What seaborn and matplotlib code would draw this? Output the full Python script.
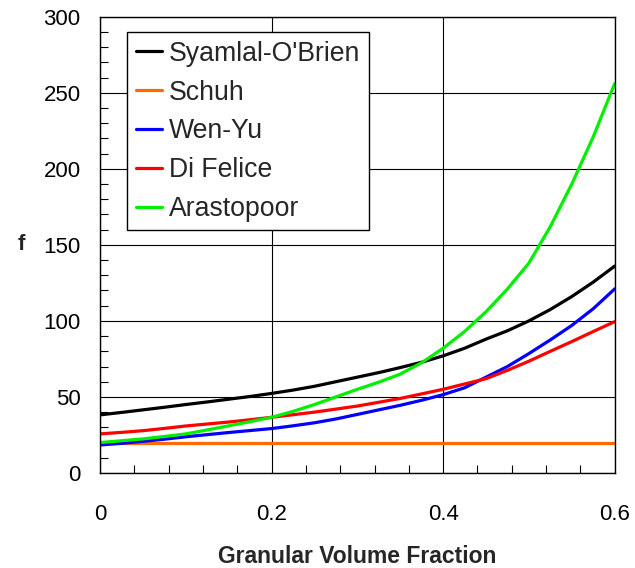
import numpy as np
import pandas as pd
import matplotlib
matplotlib.use("Agg")
import matplotlib.pyplot as plt
import seaborn as sns
from matplotlib.ticker import MultipleLocator

# ---- data ----
phi = [0.0, 0.025, 0.05, 0.075, 0.1, 0.125, 0.15, 0.175, 0.2, 0.225, 0.25, 0.275,
       0.3, 0.325, 0.35, 0.375, 0.4, 0.425, 0.45, 0.475, 0.5, 0.525, 0.55, 0.575, 0.6]

syamlal = [38.2, 39.8, 41.5, 43.2, 45.0, 46.7, 48.5, 50.3, 52.3, 54.5, 57.0, 60.0,
           63.0, 66.0, 69.3, 72.8, 77.0, 82.0, 88.0, 93.5, 100.0, 107.5, 116.0, 125.5, 136.0]
schuh = [20.0] * 25
wenyu = [18.4, 19.5, 20.8, 22.2, 23.8, 25.2, 26.6, 27.9, 29.2, 31.0, 33.0, 35.5,
         38.5, 41.5, 44.5, 47.8, 51.5, 56.0, 63.0, 70.0, 78.5, 87.5, 97.0, 108.0, 121.0]
difelice = [25.7, 26.7, 27.8, 29.3, 30.9, 32.2, 33.5, 35.0, 36.6, 38.3, 40.0, 42.0,
            44.0, 46.5, 49.0, 52.0, 55.0, 58.5, 62.0, 67.5, 73.5, 80.0, 86.4, 93.0, 99.5]
arastopoor = [20.0, 21.2, 22.4, 24.0, 25.7, 28.3, 31.0, 33.7, 36.6, 40.5, 45.0, 50.0,
              55.0, 59.7, 65.0, 72.5, 82.0, 93.0, 106.0, 121.0, 138.0, 162.0, 190.0, 221.0, 256.0]

series_names = ["Syamlal-O'Brien", "Schuh", "Wen-Yu", "Di Felice", "Arastopoor"]
series_values = [syamlal, schuh, wenyu, difelice, arastopoor]
colors = ["#000000", "#FF6A00", "#0000FF", "#FF0000", "#00F000"]

x_ticks = [0, 0.2, 0.4, 0.6]
x_tick_labels = ["0", "0.2", "0.4", "0.6"]
y_ticks = [0, 50, 100, 150, 200, 250, 300]

df = pd.DataFrame({
    "phi": np.tile(phi, len(series_names)),
    "f": np.concatenate(series_values),
    "model": np.repeat(series_names, len(phi)),
})

sns.set_style("white")
plt.rcParams["font.family"] = ["Liberation Sans", "DejaVu Sans"]

fig = plt.figure(figsize=(6.35, 5.68), dpi=100)
ax = fig.add_axes([0.1575, 0.1673, 0.8105, 0.8033])

sns.lineplot(data=df, x="phi", y="f", hue="model", hue_order=series_names,
             palette=colors, linewidth=2.3, ax=ax, legend=True, sort=False,
             estimator=None)

ax.set_xlim(0, 0.6)
ax.set_ylim(0, 300)
ax.set_xticks(x_ticks)
ax.set_xticklabels(x_tick_labels)
ax.set_yticks(y_ticks)
ax.xaxis.set_minor_locator(MultipleLocator(0.04))
ax.yaxis.set_minor_locator(MultipleLocator(10))

ax.grid(True, which="major", color="black", linewidth=0.8)
ax.set_axisbelow(True)
for s in ax.spines.values():
    s.set_visible(True)
    s.set_color("black")
    s.set_linewidth(1.0)

ax.tick_params(axis="both", which="major", length=0, labelsize=16, colors="black")
ax.tick_params(axis="x", which="major", pad=22)
ax.tick_params(axis="y", which="major", pad=14)
ax.tick_params(axis="both", which="minor", direction="in", length=5.5, width=0.8,
               color="black")
ax.tick_params(axis="x", which="minor", bottom=True)
ax.tick_params(axis="y", which="minor", left=True)

ax.set_xlabel("Granular Volume Fraction", fontsize=16.5, fontweight="bold")
ax.xaxis.set_label_coords(0.5, -0.157)
ax.set_ylabel("f", fontsize=16, fontweight="bold", rotation=0, va="center", ha="center")
ax.yaxis.set_label_coords(-0.152, 0.5)

leg = ax.legend(loc="upper left", bbox_to_anchor=(0.0525, 0.966), borderaxespad=0,
                fontsize=19.2, frameon=True, fancybox=False, edgecolor="black",
                handlelength=1.0, handletextpad=0.25, labelspacing=0.48,
                borderpad=0.32, title=None)
leg.get_frame().set_linewidth(1.0)
leg.get_frame().set_alpha(1.0)
for line in leg.get_lines():
    line.set_linewidth(2.3)

fig.savefig("out.png", dpi=100)
